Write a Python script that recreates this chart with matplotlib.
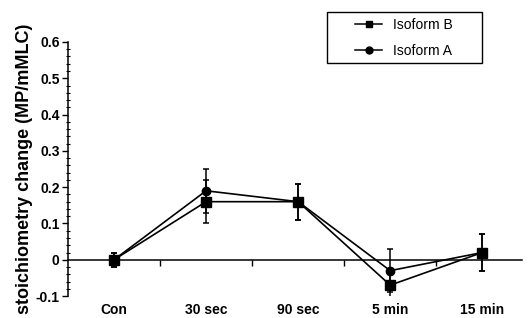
import numpy as np
import matplotlib
matplotlib.use("Agg")
import matplotlib.pyplot as plt
from matplotlib.lines import Line2D
from matplotlib.patches import Rectangle

plt.rcParams["font.family"] = ["Liberation Sans", "DejaVu Sans"]

KATEGORIE = ["Con", "30 sec", "90 sec", "5 min", "15 min"]

# Isoform B (kwadraty)
iso_b = [0.0, 0.16, 0.16, -0.07, 0.02]
iso_b_err = [0.02, 0.06, 0.05, 0.04, 0.05]

# Isoform A (kółka)
iso_a = [0.0, 0.19, 0.16, -0.03, 0.02]
iso_a_err = [0.02, 0.06, 0.05, 0.06, 0.05]

Y_TICKS = [-0.1, 0, 0.1, 0.2, 0.3, 0.4, 0.5, 0.6]
Y_LABELS = ["-0.1", "0", "0.1", "0.2", "0.3", "0.4", "0.5", "0.6"]

W, H = 529, 318


def main():
    fig = plt.figure(figsize=(W / 100, H / 100), dpi=100)
    ax = fig.add_axes([0.1285, 0.069, 0.858, 0.799])
    x = np.arange(len(KATEGORIE))

    ax.errorbar(x, iso_b, yerr=iso_b_err, color="black", marker="s", markersize=6.5,
                linewidth=1.2, elinewidth=1.1, capsize=2.5, capthick=1.1, zorder=3)
    ax.errorbar(x, iso_a, yerr=iso_a_err, color="black", marker="o", markersize=6,
                linewidth=1.2, elinewidth=1.1, capsize=2.5, capthick=1.1, zorder=3)

    ax.set_xlim(-0.5, 4.43)
    ax.set_ylim(-0.1, 0.6)

    # osie
    ax.spines["top"].set_visible(False)
    ax.spines["right"].set_visible(False)
    ax.spines["bottom"].set_position(("data", 0))
    ax.spines["bottom"].set_linewidth(1.1)
    ax.spines["left"].set_linewidth(1.1)

    ax.set_yticks(Y_TICKS)
    ax.set_yticklabels(Y_LABELS, fontsize=10, fontweight="bold")
    ax.set_yticks(np.arange(-0.1, 0.6001, 0.02), minor=True)
    ax.tick_params(axis="y", which="major", direction="out", length=4, width=1, pad=2)
    ax.tick_params(axis="y", which="minor", direction="inout", length=3, width=0.8)

    ax.set_xticks(x)
    ax.set_xticklabels([])
    ax.set_xticks(x[:-1] + 0.5, minor=True)
    ax.tick_params(axis="x", which="major", length=0)
    ax.tick_params(axis="x", which="minor", direction="out", length=4, width=1)

    for i, nazwa in enumerate(KATEGORIE):
        ax.annotate(nazwa, xy=(i, -0.1), xytext=(0, -10), textcoords="offset points",
                    ha="center", va="center", fontsize=10, fontweight="bold",
                    annotation_clip=False)

    ax.set_ylabel("stoichiometry change (MP/mMLC)", fontsize=13, fontweight="bold")
    ax.yaxis.set_label_coords(-0.077, 0.5)

    # legenda z ręczną ramką
    uchwyty = [
        Line2D([], [], color="black", marker="s", markersize=5, linewidth=1.1),
        Line2D([], [], color="black", marker="o", markersize=5, linewidth=1.1),
    ]
    fig.legend(uchwyty, ["Isoform B", "Isoform A"], loc="center left",
               bbox_to_anchor=(355 / W, 1 - 38 / H), frameon=False, fontsize=10,
               borderpad=0, handlelength=1.95, handletextpad=0.8, labelspacing=0.85,
               borderaxespad=0)
    fig.patches.append(Rectangle((327 / W, 1 - 63 / H), 155 / W, 51 / H,
                                 transform=fig.transFigure, fill=False,
                                 edgecolor="black", linewidth=1.0))

    fig.savefig("out.png", dpi=100)


if __name__ == "__main__":
    main()
